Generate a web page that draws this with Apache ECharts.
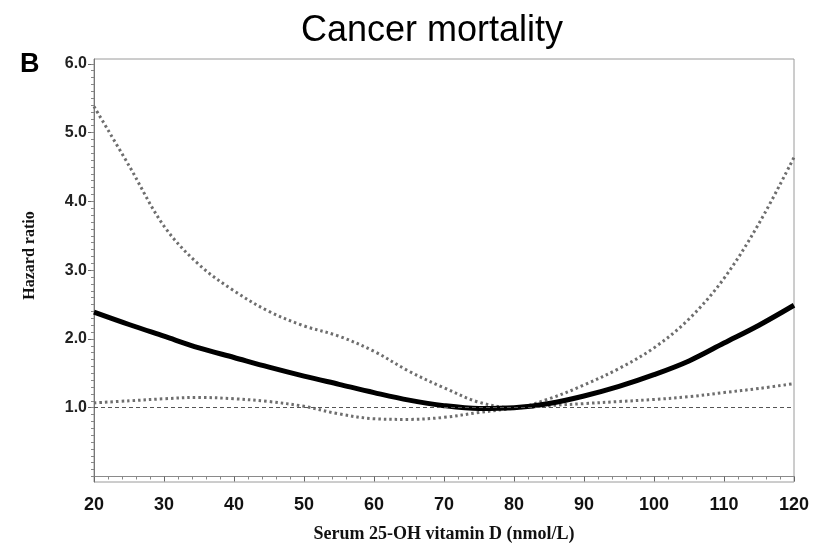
<!DOCTYPE html>
<html>
<head>
<meta charset="utf-8">
<script src="https://cdn.jsdelivr.net/npm/echarts@6/dist/echarts.min.js"></script>
<style>
  html, body { margin: 0; padding: 0; background: #fff; }
  #chart { width: 816px; height: 548px; }
</style>
</head>
<body>
<div id="chart"></div>
<script>
// Serum 25-OH vitamin D levels (nmol/L) at which the curves are sampled
const vitaminD = [20, 25, 30, 35, 40, 45, 50, 55, 60, 65, 70, 75, 80, 85, 90, 95, 100, 105, 110, 115, 120];

// Hazard ratio estimate
const hazardRatio = [2.39, 2.21, 2.04, 1.87, 1.73, 1.59, 1.46, 1.34, 1.22, 1.11, 1.03, 0.99, 1.00, 1.06, 1.17, 1.31, 1.48, 1.68, 1.94, 2.20, 2.49];

// Upper and lower 95% confidence limits
const upperCI = [5.38, 4.52, 3.64, 3.08, 2.70, 2.40, 2.19, 2.04, 1.82, 1.53, 1.29, 1.08, 1.00, 1.13, 1.33, 1.57, 1.87, 2.29, 2.88, 3.68, 4.64];
const lowerCI = [1.07, 1.10, 1.13, 1.15, 1.13, 1.09, 1.02, 0.91, 0.84, 0.83, 0.86, 0.93, 0.99, 1.03, 1.06, 1.09, 1.12, 1.16, 1.22, 1.28, 1.35];

// Reference hazard ratio
const referenceHR = 1.0;

// Axis ticks
const yTickLabels = [1.0, 2.0, 3.0, 4.0, 5.0, 6.0];
const yMinorTicks = [];
for (let i = 0; i <= 60; i++) yMinorTicks.push(i / 10);

const pairs = (ys) => vitaminD.map((x, i) => [x, ys[i]]);

const chart = echarts.init(document.getElementById('chart'), null, { renderer: 'canvas' });

const axisNameSerif = {
  fontFamily: '"Liberation Serif", "Times New Roman", serif',
  fontWeight: 'bold',
  color: '#111'
};

chart.setOption({
  animation: false,
  backgroundColor: '#ffffff',
  title: [
    {
      text: 'Cancer mortality',
      left: 427,
      top: 8,
      textAlign: 'center',
      textStyle: {
        fontFamily: '"Liberation Sans", Arial, sans-serif',
        fontWeight: 'normal',
        fontSize: 36,
        color: '#000'
      }
    },
    {
      text: 'B',
      left: 15,
      top: 46,
      textStyle: {
        fontFamily: '"Liberation Sans", Arial, sans-serif',
        fontWeight: 'bold',
        fontSize: 27,
        color: '#000'
      }
    }
  ],
  grid: {
    left: 94,
    right: 22,
    top: 59,
    bottom: 61,
    show: true,
    borderColor: '#9a9a9a',
    borderWidth: 1,
    backgroundColor: 'transparent'
  },
  xAxis: {
    type: 'value',
    min: 20,
    max: 120,
    interval: 10,
    name: 'Serum 25-OH vitamin D (nmol/L)',
    nameLocation: 'middle',
    nameGap: 43,
    nameTextStyle: Object.assign({ fontSize: 18 }, axisNameSerif),
    axisLine: { show: true, lineStyle: { color: '#8a8a8a', width: 1 } },
    axisTick: { show: true, length: 5, lineStyle: { color: '#666' } },
    minorTick: { show: true, splitNumber: 5, length: 3, lineStyle: { color: '#888' } },
    axisLabel: {
      margin: 14,
      fontFamily: '"Liberation Sans", Arial, sans-serif',
      fontWeight: 'bold',
      fontSize: 18,
      color: '#111'
    },
    splitLine: { show: false }
  },
  yAxis: [
    {
      type: 'value',
      min: -0.08,
      max: 6.07,
      name: 'Hazard ratio',
      nameLocation: 'middle',
      nameRotate: 90,
      nameGap: 56,
      nameTextStyle: Object.assign({ fontSize: 16, padding: [0, 0, 0, 30] }, axisNameSerif),
      axisLine: { show: true, lineStyle: { color: '#777', width: 1 } },
      axisTick: { show: true, customValues: yTickLabels, length: 6, lineStyle: { color: '#666' } },
      axisLabel: {
        customValues: yTickLabels,
        formatter: (v) => Number(v).toFixed(1),
        margin: 7,
        fontFamily: '"Liberation Sans", Arial, sans-serif',
        fontWeight: 'bold',
        fontSize: 16,
        color: '#222'
      },
      splitLine: { show: false }
    },
    {
      type: 'value',
      min: -0.08,
      max: 6.07,
      position: 'left',
      axisLine: { show: false },
      axisTick: { show: true, customValues: yMinorTicks, length: 3, lineStyle: { color: '#888' } },
      axisLabel: { show: false },
      splitLine: { show: false }
    }
  ],
  series: [
    {
      name: 'Upper 95% CI',
      type: 'line',
      data: pairs(upperCI),
      smooth: 0.35,
      showSymbol: false,
      lineStyle: { color: '#6e6e6e', width: 3, type: [2.5, 3] },
      z: 2
    },
    {
      name: 'Lower 95% CI',
      type: 'line',
      data: pairs(lowerCI),
      smooth: 0.35,
      showSymbol: false,
      lineStyle: { color: '#6e6e6e', width: 3, type: [2.5, 3] },
      z: 2
    },
    {
      name: 'Hazard ratio',
      type: 'line',
      data: pairs(hazardRatio),
      smooth: 0.35,
      showSymbol: false,
      lineStyle: { color: '#000', width: 5 },
      z: 4,
      markLine: {
        silent: true,
        symbol: 'none',
        label: { show: false },
        lineStyle: { color: '#555', width: 1, type: [4, 3] },
        data: [{ yAxis: referenceHR }]
      }
    }
  ]
});
</script>
</body>
</html>
